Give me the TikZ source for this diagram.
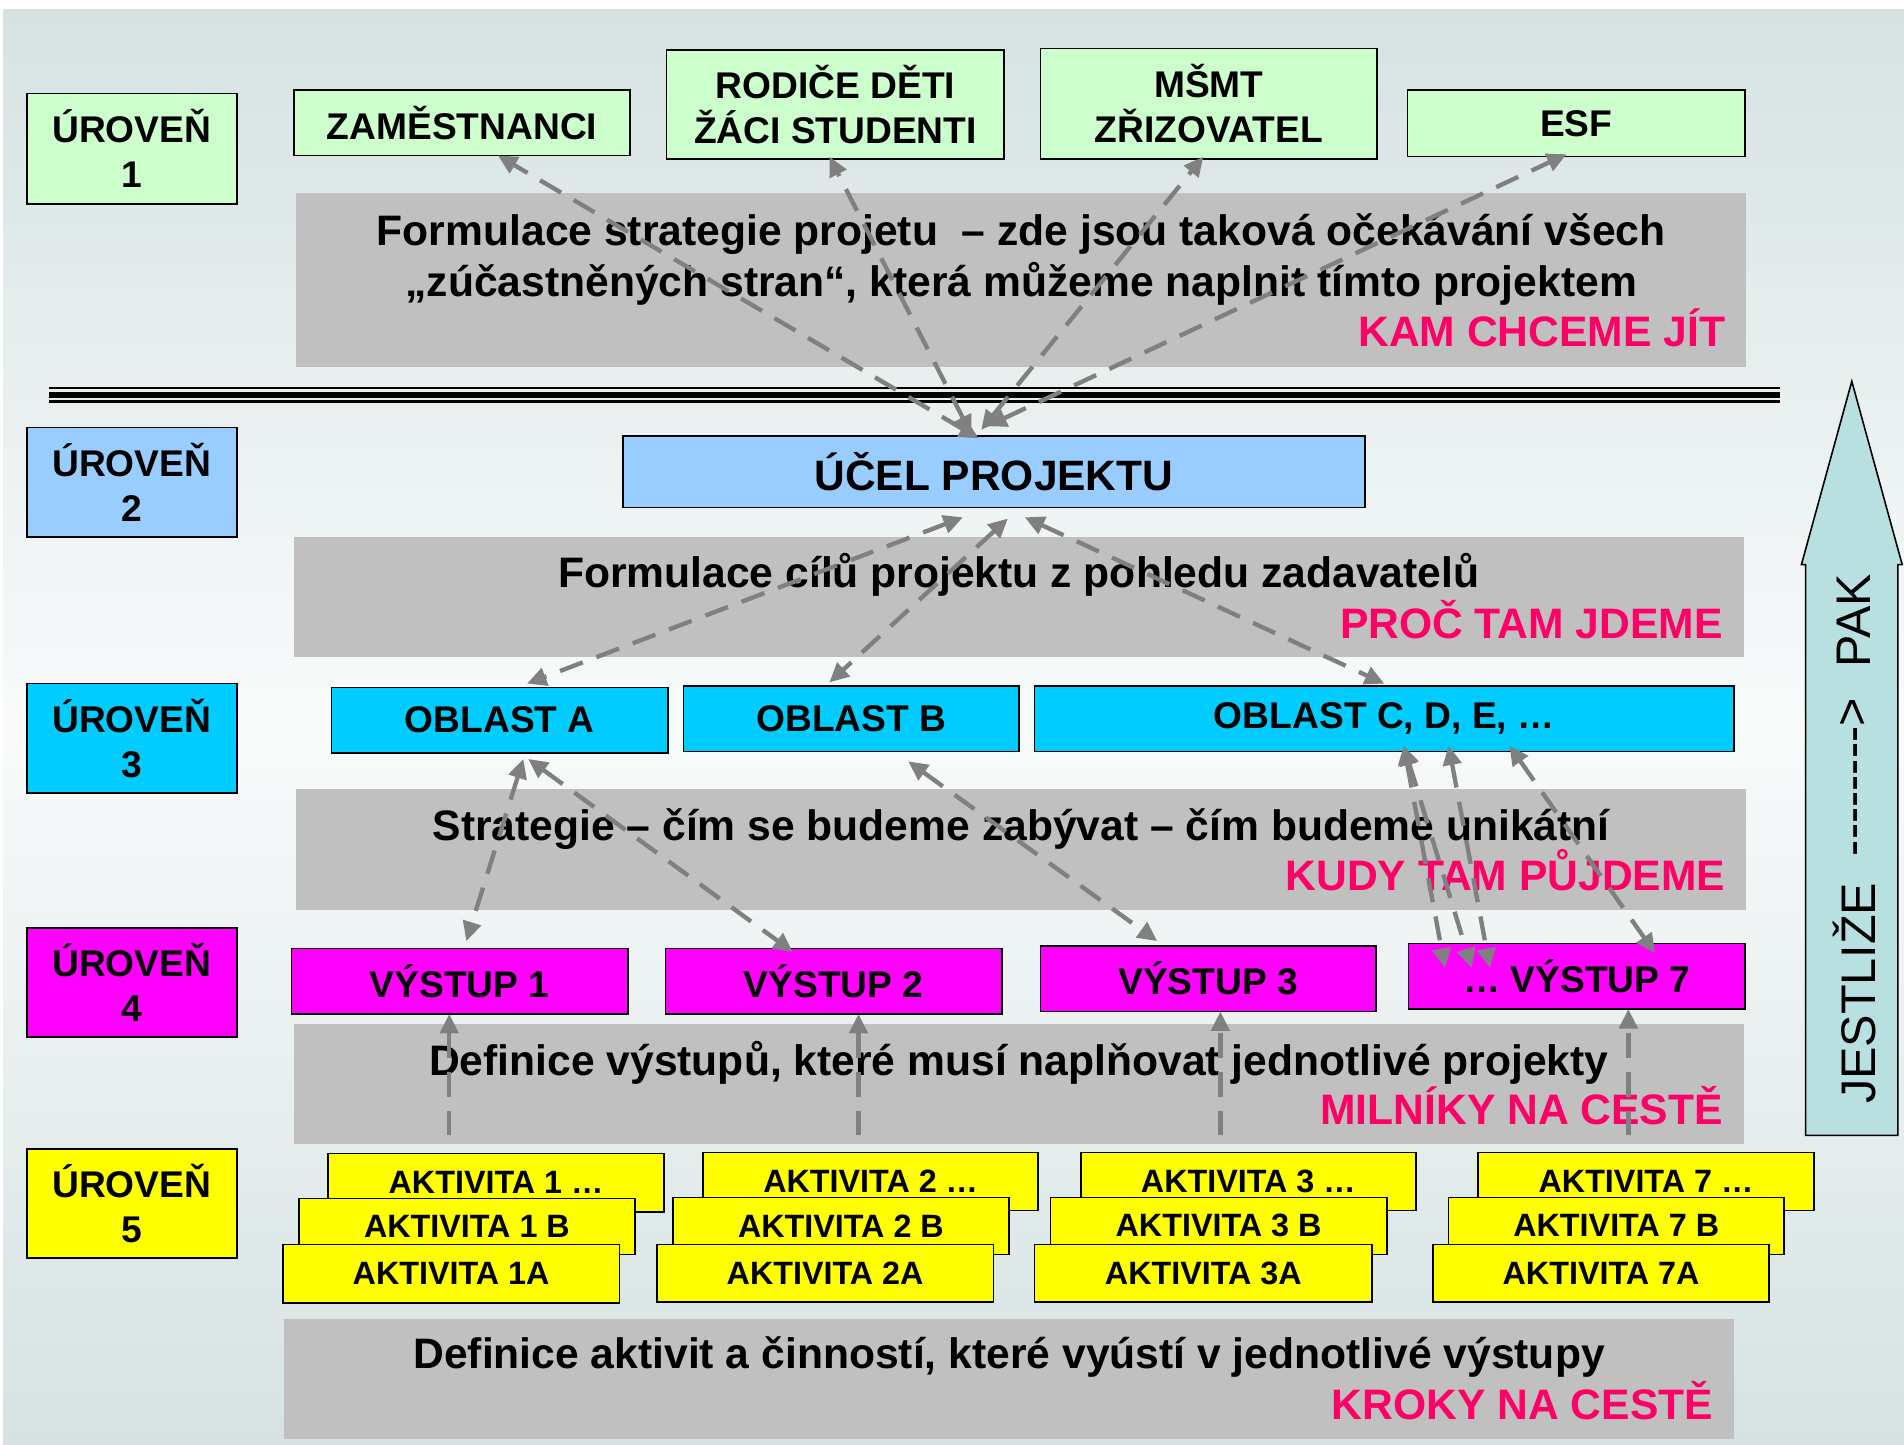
\documentclass[tikz,border=0pt]{standalone}
\usepackage{fontspec}
\setmainfont{Liberation Sans}
\usetikzlibrary{arrows.meta}
\definecolor{bgc}{RGB}{214,226,226}
\definecolor{bgm}{RGB}{249,251,251}
\definecolor{lgreen}{HTML}{CCFFCC}
\definecolor{lblue}{HTML}{99CCFF}
\definecolor{cyanb}{HTML}{00CCFF}
\definecolor{magb}{HTML}{FF00FF}
\definecolor{yelb}{HTML}{FFFF00}
\definecolor{grayb}{HTML}{C0C0C0}
\definecolor{pinkt}{HTML}{FF0066}
\definecolor{arrg}{HTML}{808080}
\definecolor{bigarr}{RGB}{185,224,225}
\begin{document}
\begin{tikzpicture}[x=1bp,y=-1bp,
  box/.style={draw=black,line width=1.3bp,inner sep=0pt,outer sep=0pt,anchor=north west,align=center,
    font=\bfseries\fontsize{30.6bp}{37bp}\selectfont},
  sz/.style 2 args={minimum width=#1bp,minimum height=#2bp},
  akt/.style={box,fill=yelb,font=\bfseries\fontsize{26.6bp}{30bp}\selectfont},
  graybox/.style={fill=grayb,inner sep=0pt,outer sep=0pt,anchor=north west,minimum width=1194bp,minimum height=99bp},
  gtxt/.style={font=\bfseries\fontsize{35.1bp}{42bp}\selectfont,anchor=base,inner sep=0pt},
  ptxt/.style={gtxt,text=pinkt,anchor=base east},
  conn/.style={draw=arrg,line width=3.6bp,dash pattern=on 20bp off 12bp,
    {Triangle[length=16bp,width=15bp]}-{Triangle[length=16bp,width=15bp]}},
  connup/.style={draw=arrg,line width=3.6bp,dash pattern=on 20bp off 12bp,
    -{Triangle[length=16bp,width=15bp]}},
  rtxt/.style={rotate=90,inner sep=0pt,font=\fontsize{40bp}{48bp}\selectfont}
]
\fill[white] (0,0) rectangle (1568,1189.2);
\useasboundingbox (0,0) rectangle (1568,1189.2);
\fill[top color=bgc,bottom color=bgc,middle color=bgm] (2.5,7.5) rectangle (1568,1189.2);

% gray bands
\node[graybox,minimum height=143bp] (g1) at (244,159) {};
\node[graybox] (g2) at (242,442) {};
\node[graybox] (g3) at (244,650) {};
\node[graybox] (g4) at (242,843) {};
\node[graybox] (g5) at (234,1086) {};

% level labels
\node[box,fill=lgreen,sz={173}{91}] (l1) at (22,77) {ÚROVEŇ\\1};
\node[box,fill=lblue,sz={173}{90}] (l2) at (22,352) {ÚROVEŇ\\2};
\node[box,fill=cyanb,sz={173}{90}] (l3) at (22,563) {ÚROVEŇ\\3};
\node[box,fill=magb,sz={173}{90}] (l4) at (22,764) {ÚROVEŇ\\4};
\node[box,fill=yelb,sz={173}{90}] (l5) at (22,946) {ÚROVEŇ\\5};

% level 1
\node[box,fill=lgreen,sz={277}{54}] (zam) at (242,74) {ZAMĚSTNANCI};
\node[box,fill=lgreen,sz={278}{90}] (rod) at (549,41) {RODIČE DĚTI\\ŽÁCI STUDENTI};
\node[box,fill=lgreen,sz={277}{91}] (msmt) at (857,40) {MŠMT\\ZŘIZOVATEL};
\node[box,fill=lgreen,sz={278}{55}] (esf) at (1159,74) {ESF};

% level 2
\node[box,fill=lblue,sz={611}{59},font=\bfseries\fontsize{35bp}{40bp}\selectfont] (ucel) at (513,359) {ÚČEL PROJEKTU};

% level 3
\node[box,fill=cyanb,sz={277}{54}] (oba) at (273,566) {OBLAST A};
\node[box,fill=cyanb,sz={276}{54}] (obb) at (563,565) {OBLAST B};
\node[box,fill=cyanb,sz={576}{54}] (obc) at (852,565) {OBLAST C, D, E, …};

% level 4
\node[box,fill=magb,sz={277}{54}] (v1) at (240,781) {VÝSTUP 1};
\node[box,fill=magb,sz={277}{54}] (v2) at (548,781) {VÝSTUP 2};
\node[box,fill=magb,sz={276}{54}] (v3) at (857,779) {VÝSTUP 3};
\node[box,fill=magb,sz={277}{54}] (v7) at (1160,777) {… VÝSTUP 7};

% level 5
\node[akt,sz={277}{48}] (a1c) at (270,950) {AKTIVITA 1 …};
\node[akt,sz={277}{46}] (a1b) at (246,987) {AKTIVITA 1 B};
\node[akt,sz={277}{48}] (a1a) at (233,1025) {AKTIVITA 1A};
\node[akt,sz={276}{48}] (a2c) at (579,949) {AKTIVITA 2 …};
\node[akt,sz={277}{47}] (a2b) at (554,986) {AKTIVITA 2 B};
\node[akt,sz={277}{47}] (a2a) at (541,1025) {AKTIVITA 2A};
\node[akt,sz={276}{48}] (a3c) at (890,949) {AKTIVITA 3 …};
\node[akt,sz={277}{47}] (a3b) at (865,986) {AKTIVITA 3 B};
\node[akt,sz={278}{47}] (a3a) at (852,1025) {AKTIVITA 3A};
\node[akt,sz={277}{48}] (a7c) at (1217,949) {AKTIVITA 7 …};
\node[akt,sz={276}{47}] (a7b) at (1193,986) {AKTIVITA 7 B};
\node[akt,sz={277}{47}] (a7a) at (1180,1025) {AKTIVITA 7A};

% band texts
\node[gtxt] (g1a) at (841,202) {Formulace strategie projetu ~– zde jsou taková očekávání všech};
\node[gtxt] (g1b) at (841,244) {„zúčastněných stran“, která můžeme naplnit tímto projektem};
\node[ptxt] (g1p) at (1421,285) {KAM CHCEME JÍT};
\node[gtxt] (g2a) at (839,484) {Formulace cílů projektu z pohledu zadavatelů};
\node[ptxt] (g2p) at (1419,526) {PROČ TAM JDEME};
\node[gtxt] (g3a) at (841,692) {Strategie – čím se budeme zabývat – čím budeme unikátní};
\node[ptxt] (g3p) at (1421,733) {KUDY TAM PŮJDEME};
\node[gtxt] (g4a) at (839,886) {Definice výstupů, které musí naplňovat jednotlivé projekty};
\node[ptxt] (g4p) at (1419,926) {MILNÍKY NA CESTĚ};
\node[gtxt] (g5a) at (831,1127) {Definice aktivit a činností, které vyústí v jednotlivé výstupy};
\node[ptxt] (g5p) at (1411,1169) {KROKY NA CESTĚ};

% triple separator line
\draw[line width=1.6bp] (40.6,319.8) -- (1466,319.8);
\draw[line width=4.4bp] (40.6,325.3) -- (1466,325.3);
\draw[line width=2.2bp] (40.6,330.8) -- (1466,330.8);

% big arrow
\draw[fill=bigarr,line width=1.3bp,line join=miter]
  (1487,935) -- (1487,465) -- (1483.5,465) -- (1525,314) -- (1566.5,465) -- (1563,465) -- (1563,935) -- cycle;
\node[rtxt] (jes) at (1527,818) {JESTLIŽE};
\node[rtxt] (dsh) at (1527,640) {-\kern0pt-\kern0pt-\kern0pt-\kern0pt-\kern0pt-\kern0pt-\kern0pt-\kern0pt>};
\node[rtxt] (pak) at (1527,511) {PAK};

% connector end points
\coordinate (tzam) at (410,128);  \coordinate (bzam) at (806,361);
\coordinate (trod) at (683,129);  \coordinate (brod) at (800,358);
\coordinate (tmsmt) at (991,129); \coordinate (bmsmt) at (808,354);
\coordinate (tesf) at (1290,127); \coordinate (besf) at (813,351);
\coordinate (ua) at (793,426); \coordinate (oa) at (434,563);
\coordinate (ub) at (830,427); \coordinate (ob) at (683,562);
\coordinate (uc) at (844,426); \coordinate (oc) at (1140,563);
\coordinate (oa1) at (431,625); \coordinate (v1t) at (384,775);
\coordinate (oa2) at (435,625); \coordinate (v2t) at (653,784);
\coordinate (ob1) at (748,627); \coordinate (v3t) at (953,775);
\coordinate (oc1) at (1156,614); \coordinate (v7a) at (1190,797);
\coordinate (v7b) at (1212,797);
\coordinate (oc2) at (1193,614); \coordinate (v7c) at (1227,797);
\coordinate (oc3) at (1243,614); \coordinate (v7d) at (1363,785);
\coordinate (s1) at (370,935); \coordinate (e1) at (370,835);
\coordinate (s2) at (707,935); \coordinate (e2) at (707,835);
\coordinate (s3) at (1005,935); \coordinate (e3) at (1005,833);
\coordinate (s7) at (1341,935); \coordinate (e7) at (1341,831);

% connectors
\draw[conn] (bzam) -- (tzam);
\draw[conn] (brod) -- (trod);
\draw[conn] (bmsmt) -- (tmsmt);
\draw[conn] (besf) -- (tesf);
\draw[conn] (ua) -- (oa);
\draw[conn] (ub) -- (ob);
\draw[conn] (uc) -- (oc);
\draw[conn] (oa1) -- (v1t);
\draw[conn] (oa2) -- (v2t);
\draw[conn] (ob1) -- (v3t);
\draw[conn] (oc1) -- (v7a);
\draw[conn] (oc1) -- (v7b);
\draw[conn] (oc2) -- (v7c);
\draw[conn] (oc3) -- (v7d);
\draw[connup] (s1) -- (e1);
\draw[connup] (s2) -- (e2);
\draw[connup] (s3) -- (e3);
\draw[connup] (s7) -- (e7);
\end{tikzpicture}
\end{document}
